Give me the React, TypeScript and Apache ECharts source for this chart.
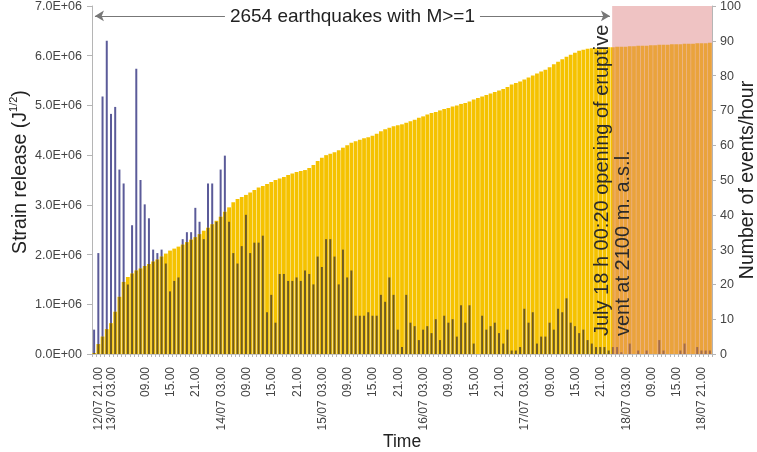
import React, { useEffect, useRef } from "react";
import * as echarts from "echarts";

// Hourly events (number of events/hour), starting 12/07 21.00
const eventsPerHour = [
  7, 29, 74, 90, 69, 71, 53, 49, 20, 37, 82, 50, 43, 39, 30, 29, 30, 26, 18, 21,
  22, 33, 35, 35, 42, 38, 33, 49, 49, 38, 53, 57, 38, 29, 26, 31, 40, 29, 32, 32,
  34, 12, 17, 9, 23, 23, 21, 21, 22, 21, 24, 23, 20, 28, 25, 33, 33, 28, 20, 30,
  22, 24, 11, 11, 11, 12, 11, 11, 17, 15, 22, 17, 7, 2, 17, 9, 8, 4, 7, 8,
  6, 10, 4, 11, 9, 10, 5, 14, 9, 14, 3, 0, 11, 7, 8, 9, 6, 3, 7, 1,
  1, 2, 13, 9, 12, 3, 5, 5, 9, 7, 13, 12, 16, 9, 8, 6, 7, 4, 3, 2,
  2, 2, 1, 2, 2, 0.5, 0, 3, 0, 1, 0, 1, 0, 0, 4, 1, 0, 0, 0, 1,
  3, 0, 0, 2, 1, 1, 1,
];

// Cumulative strain release, millions of J^1/2
const strainMillions = [
  0.02, 0.2, 0.35, 0.5, 0.62, 0.85, 1.15, 1.45, 1.55, 1.62, 1.68, 1.72, 1.77, 1.81, 1.86, 1.9, 1.96, 2.02, 2.08, 2.12,
  2.16, 2.2, 2.25, 2.3, 2.35, 2.41, 2.48, 2.54, 2.61, 2.68, 2.76, 2.86, 2.95, 3.05, 3.12, 3.16, 3.2, 3.25, 3.3, 3.35,
  3.38, 3.42, 3.46, 3.5, 3.53, 3.56, 3.6, 3.63, 3.66, 3.68, 3.7, 3.74, 3.8, 3.88, 3.95, 4.0, 4.03, 4.06, 4.1, 4.15,
  4.2, 4.25, 4.28, 4.31, 4.34, 4.36, 4.39, 4.43, 4.48, 4.52, 4.55, 4.58, 4.6, 4.62, 4.65, 4.68, 4.71, 4.75, 4.78, 4.82,
  4.85, 4.87, 4.9, 4.93, 4.95, 4.98, 5.0, 5.03, 5.05, 5.08, 5.12, 5.15, 5.18, 5.21, 5.24, 5.27, 5.3, 5.33, 5.37, 5.42,
  5.45, 5.48, 5.52, 5.56, 5.6, 5.64, 5.68, 5.72, 5.77, 5.83, 5.88, 5.93, 5.98, 6.02, 6.06, 6.1, 6.12, 6.14, 6.15, 6.15,
  6.16, 6.16, 6.17, 6.17, 6.18, 6.18, 6.18, 6.19, 6.19, 6.2, 6.2, 6.2, 6.21, 6.21, 6.22, 6.22, 6.22, 6.23, 6.23, 6.23,
  6.24, 6.24, 6.24, 6.25, 6.25, 6.25, 6.26,
];

// Tick labels on the time axis: category index -> text
const tickIndex = [1, 4, 12, 18, 24, 30, 36, 42, 48, 54, 60, 66, 72, 78, 84, 90, 96, 102, 108, 114, 120, 126, 132, 138, 144];
const tickText = [
  "12/07 21.00", "13/07 03.00", "09.00", "15.00", "21.00",
  "14/07 03.00", "09.00", "15.00", "21.00",
  "15/07 03.00", "09.00", "15.00", "21.00",
  "16/07 03.00", "09.00", "15.00", "21.00",
  "17/07 03.00", "09.00", "15.00", "21.00",
  "18/07 03.00", "09.00", "15.00", "18/07 21.00",
];

const leftTicks = [0, 1e6, 2e6, 3e6, 4e6, 5e6, 6e6, 7e6];
const rightTicks = [0, 10, 20, 30, 40, 50, 60, 70, 80, 90, 100];

// Event markers (in category units on the time axis)
const eruptionStart = 123.33; // 18/07 00:20
const arrowStart = 0.7;
const arrowEnd = 122.8;
const arrowLevel = 6.8e6;
const annotationText = "2654 earthquakes with M>=1";
const eruptionLine1 = "July 18 h 00:20 opening of eruptive";
const eruptionLine2 = "vent at 2100 m. a.s.l.";

const FONT = "'Liberation Sans', Arial, sans-serif";

function pad(n: number) {
  return n < 10 ? "0" + n : "" + n;
}

const categories = eventsPerHour.map((_, i) => {
  const t = new Date(2001, 6, 12, 21 + i, 0);
  return `${pad(t.getDate())}/${pad(t.getMonth() + 1)} ${pad(t.getHours())}.00`;
});

function sci(v: number) {
  if (v === 0) return "0.0E+00";
  const e = Math.floor(Math.log10(v) + 1e-9);
  const m = v / Math.pow(10, e);
  return `${m.toFixed(1)}E+${pad(e)}`;
}

export default function App() {
  const ref = useRef<HTMLDivElement>(null);
  useEffect(() => {
    if (!ref.current) return;
    const chart = echarts.init(ref.current, undefined, { renderer: "svg" });
    const strain = strainMillions.map((v) => v * 1e6);
    const leftMax = leftTicks[leftTicks.length - 1];
    const rightMax = rightTicks[rightTicks.length - 1];
    const hidden = eventsPerHour.map((v, i) =>
      Math.min(v, (strain[i] / leftMax) * rightMax)
    );
    const labelMap: Record<number, string> = {};
    tickIndex.forEach((k, j) => (labelMap[k] = tickText[j]));
    const N = categories.length;

    chart.setOption({
      animation: false,
      textStyle: { fontFamily: FONT },
      grid: {
        left: 92,
        right: 45,
        top: 6,
        bottom: 98,
        containLabel: false,
        outerBoundsMode: "none",
      },
      xAxis: [
        {
          type: "category",
          data: categories,
          position: "bottom",
          name: "Time",
          nameLocation: "middle",
          nameGap: 78,
          nameMoveOverlap: false,
          nameTextStyle: { fontSize: 17.5, color: "#222", fontFamily: FONT },
          axisLine: { show: true, lineStyle: { color: "#b5b5b5" } },
          axisTick: { show: true, interval: 0, length: 3, lineStyle: { color: "#b5b5b5" } },
          axisLabel: {
            interval: (index: number) => labelMap[index] !== undefined,
            formatter: (_v: string, index: number) => labelMap[index] || "",
            rotate: 90,
            margin: 13,
            fontSize: 12,
            lineHeight: 12,
            hideOverlap: false,
            showMinLabel: true,
            showMaxLabel: true,
            color: "#444",
            fontFamily: FONT,
          },
          splitLine: { show: false },
        },
        {
          type: "category",
          data: categories,
          position: "top",
          axisLine: { show: true, lineStyle: { color: "#c8c8c8" } },
          axisTick: { show: false },
          axisLabel: { show: false },
          splitLine: { show: false },
        },
        {
          type: "value",
          min: 0,
          max: N,
          show: false,
        },
      ],
      yAxis: [
        {
          type: "value",
          min: 0,
          max: leftMax,
          interval: 1e6,
          position: "left",
          name: "{a|Strain release (J}{s|1/2}{a|)}",
          nameLocation: "middle",
          nameRotate: 90,
          nameGap: 61,
          nameMoveOverlap: false,
          nameTextStyle: {
            padding: [0, 0, 0, 16],
            rich: {
              a: { fontSize: 19.5, color: "#222", fontFamily: FONT, lineHeight: 24 },
              s: { fontSize: 11, color: "#222", fontFamily: FONT, verticalAlign: "top", lineHeight: 24, padding: [0, 0, 9, 0] },
            },
          },
          axisLine: { show: true, lineStyle: { color: "#b5b5b5" } },
          axisTick: { show: true, length: 5, lineStyle: { color: "#b5b5b5" } },
          axisLabel: { formatter: sci, fontSize: 12.5, color: "#444", margin: 10, fontFamily: FONT },
          splitLine: { show: false },
        },
        {
          type: "value",
          min: 0,
          max: rightMax,
          interval: 10,
          position: "right",
          name: "Number of events/hour",
          nameLocation: "middle",
          nameRotate: 90,
          nameGap: 24,
          nameMoveOverlap: false,
          nameTextStyle: { fontSize: 19.5, color: "#222", fontFamily: FONT },
          axisLine: { show: true, lineStyle: { color: "#b5b5b5" } },
          axisTick: { show: true, length: 4, lineStyle: { color: "#b5b5b5" } },
          axisLabel: { fontSize: 12.5, color: "#444", margin: 8, fontFamily: FONT },
          splitLine: { show: false },
        },
      ],
      series: [
        {
          name: "events",
          type: "bar",
          xAxisIndex: 1,
          yAxisIndex: 1,
          data: eventsPerHour,
          barWidth: 2,
          barGap: "-100%",
          itemStyle: { color: "#5b5b99" },
          z: 2,
        },
        {
          name: "strain",
          type: "bar",
          xAxisIndex: 0,
          yAxisIndex: 0,
          data: strain,
          barCategoryGap: "10%",
          itemStyle: { color: "#f5c200" },
          z: 3,
        },
        {
          name: "eventsInside",
          type: "bar",
          xAxisIndex: 1,
          yAxisIndex: 1,
          data: hidden,
          barWidth: 2,
          barGap: "-100%",
          itemStyle: { color: "#6e5a22" },
          z: 4,
        },
        {
          name: "eruption",
          type: "custom",
          xAxisIndex: 2,
          yAxisIndex: 0,
          data: [[eruptionStart, N]],
          encode: { x: [0, 1] },
          clip: false,
          z: 10,
          silent: true,
          renderItem: (_params: any, api: any) => {
            const p0 = api.coord([api.value(0), leftMax]);
            const p1 = api.coord([api.value(1), 0]);
            return {
              type: "rect",
              shape: { x: p0[0], y: p0[1], width: p1[0] - p0[0], height: p1[1] - p0[1] },
              style: { fill: "rgba(222,128,128,0.47)" },
            };
          },
        },
        {
          name: "markers",
          type: "line",
          xAxisIndex: 2,
          yAxisIndex: 0,
          data: [],
          z: 11,
          markLine: {
            silent: true,
            symbol: ["arrow", "arrow"],
            symbolSize: [8, 9],
            lineStyle: { color: "#777", width: 1, type: "solid" },
            label: {
              show: true,
              position: "middle",
              formatter: annotationText,
              fontSize: 19,
              lineHeight: 20,
              color: "#222",
              fontFamily: FONT,
              backgroundColor: "#fff",
              padding: [1, 5],
              distance: -11,
            },
            data: [[{ coord: [arrowStart, arrowLevel] }, { coord: [arrowEnd, arrowLevel] }]],
          },
        },
      ],
      graphic: [
        {
          type: "text",
          x: 601,
          y: 336,
          rotation: Math.PI / 2,
          z: 100,
          style: { text: eruptionLine1, font: `20px ${FONT}`, fill: "#2a2a2a", textAlign: "left", textVerticalAlign: "middle" },
        },
        {
          type: "text",
          x: 622,
          y: 336,
          rotation: Math.PI / 2,
          z: 100,
          style: { text: eruptionLine2, font: `20px ${FONT}`, fill: "#2a2a2a", textAlign: "left", textVerticalAlign: "middle" },
        },
      ],
    });
    return () => chart.dispose();
  }, []);
  return (
    <div
      ref={ref}
      style={{ position: "fixed", left: 0, top: 0, width: 757, height: 452 }}
    />
  );
}
